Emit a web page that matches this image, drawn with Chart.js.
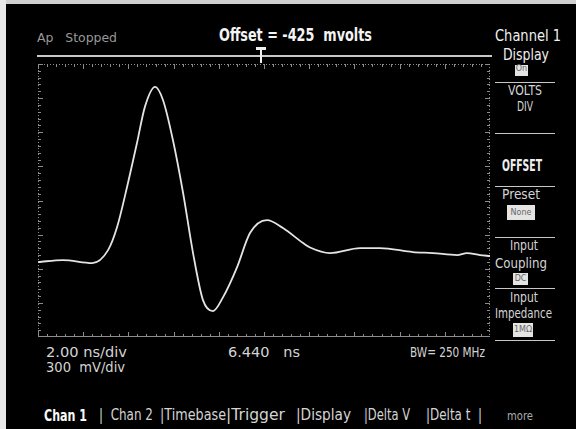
<!DOCTYPE html>
<html>
<head>
<meta charset="utf-8">
<script src="https://cdn.jsdelivr.net/npm/chart.js@4/dist/chart.umd.min.js"></script>
<style>
  html, body { margin: 0; padding: 0; background: #000; }
  #screen { position: relative; width: 576px; height: 429px; background: #000; overflow: hidden; }
  .t { position: absolute; font-family: "DejaVu Sans", sans-serif; white-space: pre; line-height: 1; color: #d4d4d4; transform-origin: left top; }
  .hl { position: absolute; height: 1px; background: #c8c8c8; }
  .box { position: absolute; background: #e4e4e4; color: #666; font-family: "DejaVu Sans", sans-serif; font-size: 8px; line-height: 1; text-align: center; }
  #plot { position: absolute; left: 38px; top: 64px; }
</style>
</head>
<body>
<div id="screen">
  <!-- photo edges -->
  <div style="position:absolute;left:0;top:0;width:576px;height:4px;background:#d0d0d0"></div>
  <div style="position:absolute;left:0;top:0;width:6px;height:429px;background:#e8e8e8"></div>

  <div class="t" data-w="80" style="left:37px;top:31px;font-size:13px;color:#999">Ap   Stopped</div>
  <div class="t" data-w="153" style="left:219px;top:27px;font-size:17px;font-weight:bold;color:#f4f4f4">Offset = -425  mvolts</div>

  <!-- offset bar + marker -->
  <div class="hl" style="left:37px;top:55px;width:455px;height:2px"></div>
  <div style="position:absolute;left:256px;top:47px;width:10px;height:3px;background:#f0f0f0"></div>
  <div style="position:absolute;left:260px;top:49px;width:2px;height:14px;background:#f0f0f0"></div>

  <!-- softkey panel -->
  <div class="t" data-w="66" style="left:495px;top:28px;font-size:16px;color:#f0f0f0">Channel 1</div>
  <div class="t" data-w="46" style="left:503px;top:47px;font-size:16px;color:#f0f0f0">Display</div>
  <div class="box" style="left:515px;top:65px;width:13px;height:11px">On</div>
  <div class="hl" style="left:495px;top:82px;width:60px"></div>
  <div class="t" data-w="34" style="left:508px;top:83px;font-size:14px">VOLTS</div>
  <div class="t" data-w="16" style="left:517px;top:99px;font-size:14px">DIV</div>
  <div class="hl" style="left:495px;top:133px;width:60px"></div>
  <div class="t" data-w="40" style="left:502px;top:159px;font-size:15px;font-weight:bold;color:#f0f0f0">OFFSET</div>
  <div class="hl" style="left:495px;top:186px;width:60px"></div>
  <div class="t" data-w="38" style="left:502px;top:187px;font-size:14px">Preset</div>
  <div class="box" style="left:507px;top:205px;width:28px;height:15px;line-height:15px">None</div>
  <div class="hl" style="left:495px;top:237px;width:60px"></div>
  <div class="t" data-w="28" style="left:510px;top:238px;font-size:14px">Input</div>
  <div class="t" data-w="52" style="left:495px;top:256px;font-size:14px">Coupling</div>
  <div class="box" style="left:513px;top:273px;width:15px;height:12px;line-height:12px">DC</div>
  <div class="hl" style="left:495px;top:288px;width:60px"></div>
  <div class="t" data-w="28" style="left:510px;top:290px;font-size:14px">Input</div>
  <div class="t" data-w="57" style="left:495px;top:306px;font-size:14px">Impedance</div>
  <div class="box" style="left:513px;top:323px;width:20px;height:14px;line-height:14px">1MΩ</div>
  <div class="hl" style="left:495px;top:340px;width:60px"></div>

  <!-- bottom status -->
  <div class="t" data-w="81" style="left:46px;top:345px;font-size:14px">2.00 ns/div</div>
  <div class="t" data-w="79" style="left:46px;top:360px;font-size:14px">300  mV/div</div>
  <div class="t" data-w="72" style="left:228px;top:345px;font-size:14px">6.440   ns</div>
  <div class="t" data-w="75" style="left:410px;top:345px;font-size:14px">BW= 250 MHz</div>

  <!-- menu row -->
  <div class="t" data-w="43" style="left:44px;top:408px;font-size:16px;font-weight:bold;color:#fafafa">Chan 1</div>
  <div class="t" data-w="54" style="left:99px;top:408px;font-size:15px">|  Chan 2</div>
  <div class="t" data-w="66" style="left:160px;top:408px;font-size:15px">|Timebase</div>
  <div class="t" data-w="59" style="left:226px;top:408px;font-size:15px">|Trigger</div>
  <div class="t" data-w="55" style="left:296px;top:408px;font-size:15px">|Display</div>
  <div class="t" data-w="46" style="left:364px;top:408px;font-size:15px">|Delta V</div>
  <div class="t" data-w="56" style="left:426px;top:408px;font-size:15px">|Delta t  |</div>
  <div class="t" data-w="26" style="left:507px;top:410px;font-size:12px;color:#aaa">more</div>

  <canvas id="plot" width="452" height="273"></canvas>
</div>

<script>
'use-strict'

// trace: time in ns, level in mV
const timeNs = [0, 1.1, 2.4, 3.1, 3.5, 3.94, 4.38, 4.73, 5.18, 5.53, 5.97, 6.42, 6.86, 7.3, 7.74, 8.19, 8.81, 9.38, 10.13, 10.84, 11.73, 12.04, 12.92, 14.25, 15.13, 16.59, 17.48, 18.54, 18.98, 19.56, 20]
const traceMv = [-966, -949, -975, -861, -658, -306, 81, 398, 574, 459, 107, -359, -887, -1301, -1397, -1274, -1010, -711, -597, -667, -799, -838, -887, -843, -843, -878, -887, -905, -887, -905, -913]

// screen: 10 div x 2 ns, 8 div x 300 mV around the -425 mV offset
const nsPerDiv = 2
const mvPerDiv = 300
const offsetMv = -425

// squeeze labels to the narrow scope font width
document.querySelectorAll('.t[data-w]').forEach(elt => {
    const w = elt.getBoundingClientRect().width
    elt.style.transform = `scaleX(${elt.dataset.w / w})`
})

const ctx = document.querySelector('#plot').getContext('2d')

const graticule = {
    id: 'graticule',
    beforeDatasetsDraw(chart) {
        const { ctx, chartArea: a, scales: { x, y } } = chart
        ctx.save()
        ctx.strokeStyle = '#8c8c8c'
        ctx.lineWidth = 1
        ctx.beginPath()
        ctx.moveTo(a.left, a.bottom - 0.5)
        ctx.lineTo(a.right, a.bottom - 0.5)
        // ticks every 1/5 div
        for (let i = 0; i <= 50; i++) {
            const px = Math.round(x.getPixelForValue(i * nsPerDiv / 5)) + 0.5
            const len = i % 5 == 0 ? 5 : 3
            ctx.moveTo(px, a.bottom)
            ctx.lineTo(px, a.bottom - len)
            ctx.moveTo(px, a.top)
            ctx.lineTo(px, a.top + len)
        }
        for (let i = 0; i <= 40; i++) {
            const py = Math.round(y.getPixelForValue(offsetMv - 4 * mvPerDiv + i * mvPerDiv / 5)) + 0.5
            const len = i % 5 == 0 ? 5 : 3
            ctx.moveTo(a.left, py)
            ctx.lineTo(a.left + len, py)
            ctx.moveTo(a.right, py)
            ctx.lineTo(a.right - len, py)
        }
        ctx.stroke()
        // dotted frame
        ctx.setLineDash([1, 2])
        ctx.beginPath()
        ctx.moveTo(a.left, a.top + 0.5)
        ctx.lineTo(a.right, a.top + 0.5)
        ctx.moveTo(a.left + 0.5, a.top)
        ctx.lineTo(a.left + 0.5, a.bottom)
        ctx.moveTo(a.right - 0.5, a.top)
        ctx.lineTo(a.right - 0.5, a.bottom)
        ctx.stroke()
        ctx.restore()
    }
}

const data = {
    datasets: [{
        data: timeNs.map((t, i) => ({ x: t, y: traceMv[i] })),
        borderColor: '#e4e4e4',
        borderWidth: 1.8,
        pointRadius: 0,
        showLine: true,
        cubicInterpolationMode: 'monotone'
    }]
}

const config = {
    type: 'scatter',
    data: data,
    options: {
        responsive: false,
        animation: false,
        layout: { padding: 0 },
        plugins: { legend: { display: false }, tooltip: { enabled: false } },
        scales: {
            x: { type: 'linear', display: false, min: 0, max: 10 * nsPerDiv },
            y: { type: 'linear', display: false, min: offsetMv - 4 * mvPerDiv, max: offsetMv + 4 * mvPerDiv }
        }
    },
    plugins: [graticule]
}

const chart = new Chart(ctx, config)
</script>
</body>
</html>
